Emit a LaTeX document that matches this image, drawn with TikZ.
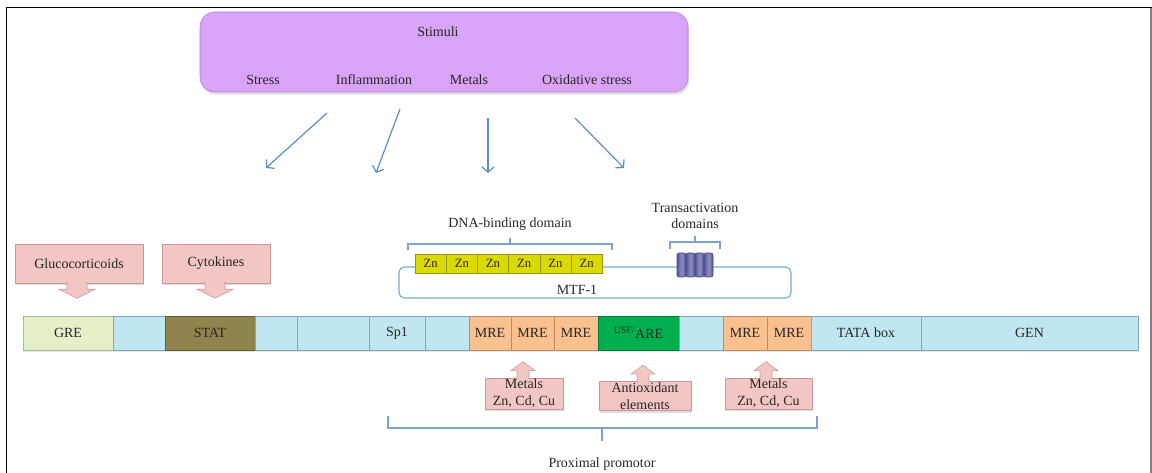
\documentclass[tikz,border=0pt]{standalone}
\usepackage{fontspec}
\setmainfont{Liberation Serif}
\usepackage{tikz}
\usetikzlibrary{arrows.meta,positioning,calc,shadows}
\definecolor{stimpurple}{RGB}{217,163,247}
\definecolor{stimedge}{RGB}{180,128,215}
\definecolor{arrowblue}{RGB}{91,142,200}
\definecolor{bracketblue}{RGB}{122,162,210}
\definecolor{mtfblue}{RGB}{112,172,196}
\definecolor{segblue}{RGB}{192,230,242}
\definecolor{segedge}{RGB}{128,168,182}
\definecolor{gregreen}{RGB}{228,240,200}
\definecolor{greedge}{RGB}{170,185,140}
\definecolor{statolive}{RGB}{143,131,78}
\definecolor{statedge}{RGB}{100,92,50}
\definecolor{mreorange}{RGB}{250,192,143}
\definecolor{mreedge}{RGB}{190,140,100}
\definecolor{aregreen}{RGB}{0,176,80}
\definecolor{areedge}{RGB}{0,120,55}
\definecolor{znyellow}{RGB}{218,218,0}
\definecolor{znedge}{RGB}{150,150,0}
\definecolor{tddark}{RGB}{88,88,150}
\definecolor{tdlight}{RGB}{140,140,200}
\definecolor{calloutpink}{RGB}{243,198,198}
\definecolor{pinkedge}{RGB}{205,150,150}

\begin{document}
\begin{tikzpicture}[x=0.75pt,y=-0.75pt,
  every node/.style={font=\fontsize{10.5}{12.5}\selectfont,text=black!85},
  stimbox/.style={draw=stimedge,fill=stimpurple,rounded corners=11pt,minimum width=366pt,minimum height=60pt,drop shadow={opacity=0.25,shadow xshift=1pt,shadow yshift=-2pt}},
  stimarrow/.style={arrowblue,line width=0.9pt,-{Straight Barb[length=4pt,width=9pt]}},
  seg/.style={draw=segedge,fill=segblue,minimum height=25.5pt,inner sep=0pt,outer sep=0pt,drop shadow={opacity=0.2,shadow xshift=1pt,shadow yshift=-1.5pt}},
  mre/.style={seg,fill=mreorange,draw=mreedge},
  pinkbox/.style={draw=pinkedge,fill=calloutpink,inner sep=1pt,align=center,drop shadow={opacity=0.25,shadow xshift=1pt,shadow yshift=-1.5pt}},
  pointer/.style={draw=pinkedge,fill=calloutpink},
  znbox/.style={draw=znedge,fill=znyellow,minimum width=23.4pt,minimum height=14.25pt,inner sep=0pt,font=\fontsize{9.5}{11}\selectfont},
  tdbar/.style={draw=tddark!80!black,shading=axis,left color=tddark,right color=tddark,middle color=tdlight,shading angle=90,rounded corners=1.5pt,minimum width=6.75pt,minimum height=18pt,inner sep=0pt},
  bracket/.style={bracketblue,line width=0.9pt}]
\useasboundingbox (0,0) rectangle (1152,473);
% frame of the scan
\draw[black,line width=1.4pt] (6.5,473) -- (6.5,7.5) -- (1152,7.5);
\draw[gray,line width=1pt] (1151,8) -- (1151,473);

% stimuli
\node[stimbox] (stim) at (444,52) {};
\node (stimuli) at (438,32) {Stimuli};
\node (stress) at (263,80) {Stress};
\node (inflam) at (374,80) {Inflammation};
\node (metals) at (469,80) {Metals};
\node (oxid) at (587,80) {Oxidative stress};
\coordinate (s1) at (327,113); \coordinate (e1) at (266,168);
\coordinate (s2) at (400,109); \coordinate (e2) at (376,173);
\coordinate (s3) at (488,118); \coordinate (e3) at (488,173);
\coordinate (s4) at (575,118); \coordinate (e4) at (624,168);
\draw[stimarrow] (s1) -- (e1);
\draw[stimarrow] (s2) -- (e2);
\draw[stimarrow] (s3) -- (e3);
\draw[stimarrow] (s4) -- (e4);

% MTF-1
\draw[bracket] (408,250) -- (408,244) -- (612,244) -- (612,250);
\draw[bracket] (510,244) -- (510,238);
\node (dnalabel) at (510,224) {DNA-binding domain};
\draw[bracket] (670,249) -- (670,242) -- (720,242) -- (720,249);
\draw[bracket] (695,242) -- (695,236);
\node[align=center] (tdlabel) at (695,216) {Transactivation\\domains};
\node[draw=mtfblue,line width=0.8pt,rounded corners=4pt,minimum width=294pt,minimum height=23.25pt] (mtf) at (595,282.5) {};
\node (mtflabel) at (577,290) {MTF-1};
\foreach \i in {1,...,6}
  \node[znbox] (zn\i) at ({399.4+31.2*\i},263.5) {Zn};
\foreach \i in {1,...,4}
  \node[tdbar] (td\i) at ({672.5+9*\i},265) {};

% callouts above the gene
\node[pinkbox,minimum width=96pt,minimum height=29.25pt] (gluco) at (79,263.5) {Glucocorticoids};
\node[pinkbox,minimum width=81pt,minimum height=29.25pt] (cyto) at (216,263.5) {Cytokines};
\draw[pointer] ($(gluco.south)+(-12,-2)$) -- ++(0,8) -- ++(-8,0) -- ++(18,9) -- ++(18,-9) -- ++(-8,0) -- ++(0,-8);
\draw[pointer] ($(cyto.south)+(-11,-2)$) -- ++(0,8) -- ++(-8,0) -- ++(18,9) -- ++(18,-9) -- ++(-8,0) -- ++(0,-8);

% the gene
\node[seg,fill=gregreen,draw=greedge,minimum width=67.5pt,anchor=west] (gre) at (23,333) {GRE};
\node[seg,minimum width=39pt,right=0pt of gre] (gap1) {};
\node[seg,fill=statolive,draw=statedge,minimum width=67.5pt,right=0pt of gap1] (stat) {STAT};
\node[seg,minimum width=31.5pt,right=0pt of stat] (gap2) {};
\node[seg,minimum width=54pt,right=0pt of gap2] (gap3) {};
\node[seg,minimum width=42pt,right=0pt of gap3] (sp1) {Sp1};
\node[seg,minimum width=33pt,right=0pt of sp1] (gap4) {};
\node[mre,minimum width=31.5pt,right=0pt of gap4] (mre1) {MRE};
\node[mre,minimum width=32.25pt,right=0pt of mre1] (mre2) {MRE};
\node[mre,minimum width=33pt,right=0pt of mre2] (mre3) {MRE};
\node[seg,fill=aregreen,draw=areedge,minimum width=60.75pt,right=0pt of mre3] (are) {\textsuperscript{USF/}ARE};
\node[seg,minimum width=33pt,right=0pt of are] (gap5) {};
\node[mre,minimum width=33pt,right=0pt of gap5] (mre4) {MRE};
\node[mre,minimum width=33pt,right=0pt of mre4] (mre5) {MRE};
\node[seg,minimum width=82.5pt,right=0pt of mre5] (tata) {TATA box};
\node[seg,minimum width=162.75pt,right=0pt of tata] (gen) {GEN};

% callouts below the gene
\node[pinkbox,minimum width=58.5pt,minimum height=21.75pt] (metal1) at (524,393.5) {Metals\\Zn, Cd, Cu};
\node[pinkbox,minimum width=69pt,minimum height=21pt] (antiox) at (645,396) {Antioxidant\\elements};
\node[pinkbox,minimum width=65.25pt,minimum height=21.75pt] (metal2) at (768.5,393.5) {Metals\\Zn, Cd, Cu};
\draw[pointer] ($(metal1.north)+(-7,2)$) -- ++(0,-9) -- ++(-6,0) -- ++(12,-9) -- ++(12,9) -- ++(-6,0) -- ++(0,9);
\draw[pointer] ($(antiox.north)+(-8,2)$) -- ++(0,-9) -- ++(-6,0) -- ++(12,-9) -- ++(12,9) -- ++(-6,0) -- ++(0,9);
\draw[pointer] ($(metal2.north)+(-8.5,2)$) -- ++(0,-9) -- ++(-6,0) -- ++(12,-9) -- ++(12,9) -- ++(-6,0) -- ++(0,9);

% proximal promotor
\draw[bracket] (388,416) -- (388,428) -- (817,428) -- (817,416);
\draw[bracket] (602,428) -- (602,441);
\node (proximal) at (602,464) {Proximal promotor};
\end{tikzpicture}
\end{document}
